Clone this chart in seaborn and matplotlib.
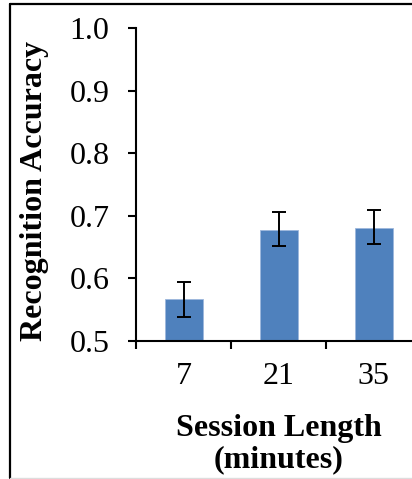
import matplotlib
matplotlib.use("Agg")
import matplotlib.pyplot as plt
import seaborn as sns
import pandas as pd
from matplotlib.lines import Line2D
from matplotlib.ticker import FixedLocator

categories = ["7", "21", "35"]
accuracy = [0.567, 0.678, 0.681]
err_low = [0.538, 0.652, 0.655]
err_high = [0.595, 0.706, 0.709]
yticks = [0.5, 0.6, 0.7, 0.8, 0.9, 1.0]

sns.set_theme(style="white")
plt.rcParams["font.family"] = ["Liberation Serif", "DejaVu Serif"]

df = pd.DataFrame({"session": categories, "acc": accuracy})

fig = plt.figure(figsize=(4.12, 4.79), dpi=100)
ax = fig.add_axes([136 / 412, 138 / 479, 285 / 412, 313 / 479])

sns.barplot(data=df, x="session", y="acc", ax=ax, color="#4F81BD",
            saturation=1, width=0.4, errorbar=None,
            edgecolor="#9db7dc", linewidth=0.6)

xs = list(range(len(categories)))
lower = [a - l for a, l in zip(accuracy, err_low)]
upper = [h - a for a, h in zip(accuracy, err_high)]
ax.errorbar(xs, accuracy, yerr=[lower, upper], fmt="none", ecolor="black",
            elinewidth=1.4, capsize=4.8, capthick=1.4, zorder=5)

ax.set_xlim(-0.5, len(categories) - 0.5)
ax.set_ylim(0.5, 1.0)
ax.set_yticks(yticks)
ax.set_yticklabels([f"{t:.1f}" for t in yticks])

for s in ["top", "right"]:
    ax.spines[s].set_visible(False)
for s in ["left", "bottom"]:
    ax.spines[s].set_color("black")
    ax.spines[s].set_linewidth(1.5)

FS = 23
ax.tick_params(axis="y", direction="out", length=6, width=1.5, color="black",
               pad=13, labelsize=FS, left=True)
ax.tick_params(axis="x", which="major", length=0, pad=15, labelsize=FS)
ax.xaxis.set_minor_locator(FixedLocator([i - 0.5 for i in range(len(categories) + 1)]))
ax.tick_params(axis="x", which="minor", direction="out", length=6, width=1.5,
               color="black", bottom=True)
for lab in ax.get_xticklabels() + ax.get_yticklabels():
    lab.set_color("black")

ax.set_xlabel("Session Length\n(minutes)", fontsize=FS, fontweight="bold",
              color="black", labelpad=17, linespacing=1.1)
ax.set_ylabel("Recognition Accuracy", fontsize=FS, fontweight="bold",
              color="black")
ax.yaxis.set_label_coords(-0.305, 0.481)

# outer frame
fig.add_artist(Line2D([10 / 412, 1.0], [1 - 3.5 / 479, 1 - 3.5 / 479],
                      transform=fig.transFigure, color="black", linewidth=1.6))
fig.add_artist(Line2D([10 / 412, 10 / 412], [1 - 3.5 / 479, 1.5 / 479],
                      transform=fig.transFigure, color="black", linewidth=1.6))
fig.add_artist(Line2D([10 / 412, 1.0], [1.2 / 479, 1.2 / 479],
                      transform=fig.transFigure, color="#dddddd", linewidth=1.0))

fig.savefig("out.png", dpi=100)
